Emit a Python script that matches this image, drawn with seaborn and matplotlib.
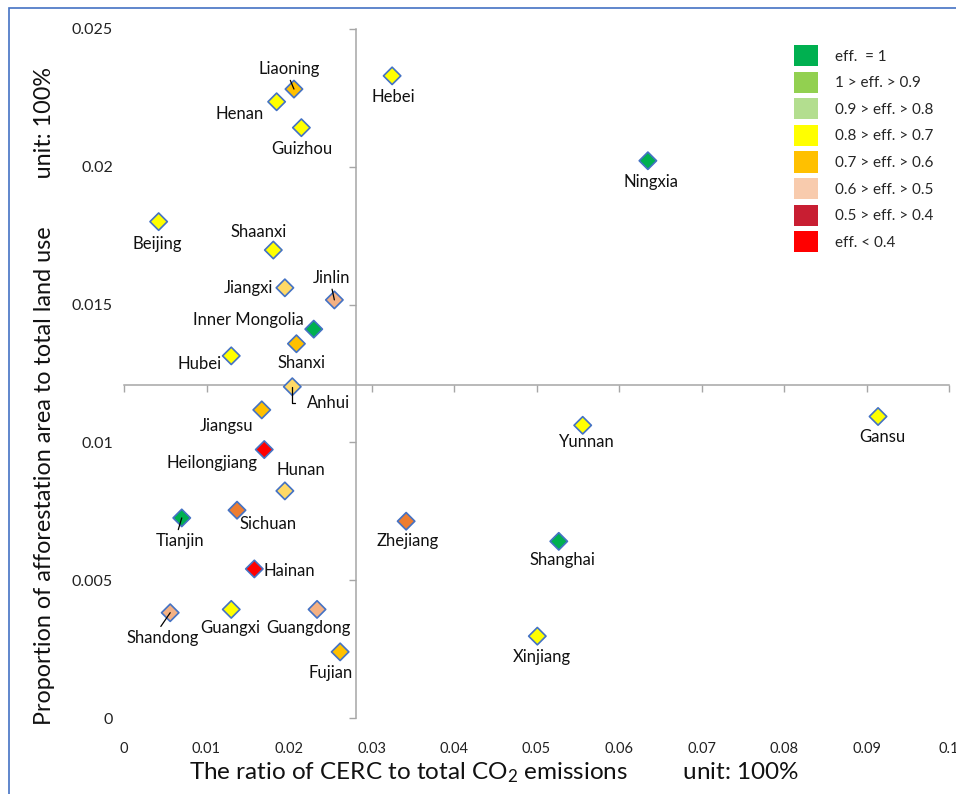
import numpy as np
import pandas as pd
import seaborn as sns
import matplotlib.pyplot as plt
from matplotlib.patches import Patch, Rectangle
from matplotlib.ticker import FuncFormatter

# provinces
provinces = ["Liaoning", "Henan", "Guizhou", "Hebei", "Ningxia", "Beijing", "Shaanxi",
             "Jiangxi", "Jinlin", "Inner Mongolia", "Shanxi", "Hubei", "Anhui", "Jiangsu",
             "Heilongjiang", "Hunan", "Sichuan", "Tianjin", "Hainan", "Shandong", "Guangxi",
             "Guangdong", "Fujian", "Yunnan", "Gansu", "Zhejiang", "Shanghai", "Xinjiang"]
cerc_ratio = [0.0206, 0.0185, 0.0215, 0.0325, 0.0635, 0.0042, 0.0181,
              0.0195, 0.0255, 0.0230, 0.0209, 0.0130, 0.0204, 0.0167,
              0.0170, 0.0195, 0.0137, 0.0070, 0.0158, 0.0056, 0.0130,
              0.0234, 0.0262, 0.0556, 0.0914, 0.0342, 0.0527, 0.0501]
afforest_ratio = [0.02282, 0.02236, 0.02142, 0.02330, 0.02022, 0.01801, 0.01698,
                  0.01561, 0.01517, 0.01411, 0.01358, 0.01314, 0.01202, 0.01118,
                  0.00974, 0.00824, 0.00754, 0.00726, 0.00541, 0.00382, 0.00394,
                  0.00394, 0.00240, 0.01062, 0.01094, 0.00714, 0.00641, 0.00297]
marker_class = ["amber", "yellow", "yellow", "yellow", "green", "yellow", "yellow",
                "gold", "salmon", "green", "amber", "yellow", "gold", "amber",
                "red", "gold", "orange", "green", "red", "salmon", "yellow",
                "salmon", "amber", "yellow", "yellow", "orange", "green", "yellow"]

legend_labels = ["eff.  = 1", "1 > eff. > 0.9", "0.9 > eff. > 0.8", "0.8 > eff. > 0.7",
                 "0.7 > eff. > 0.6", "0.6 > eff. > 0.5", "0.5 > eff. > 0.4", "eff. < 0.4"]
legend_colors = ["#00B050", "#92D050", "#B3DE8F", "#FFFF00",
                 "#FFC000", "#F8CBAD", "#C81E32", "#FF0000"]

palette = {"green": "#00B050", "yellow": "#FFFF00", "amber": "#FFC000", "gold": "#FFD966",
           "salmon": "#F4B183", "orange": "#ED7D31", "red": "#FF0000"}

x_ticks = [0, 0.01, 0.02, 0.03, 0.04, 0.05, 0.06, 0.07, 0.08, 0.09, 0.1]
y_ticks = [0, 0.005, 0.01, 0.015, 0.02, 0.025]
x_cross, y_cross = 0.0281, 0.01207

# label offsets in pixels (dx, dy), leader line kind
label_pos = {
    "Liaoning": (-5, 20, "up"), "Henan": (-37, -12, None), "Guizhou": (0, -21, None),
    "Hebei": (1, -21, None), "Ningxia": (3, -21, None), "Beijing": (-1, -22, None),
    "Shaanxi": (-15, 18, None), "Jiangxi": (-36, 0, None), "Jinlin": (-3, 22, "up"),
    "Inner Mongolia": (-65, 9, None), "Shanxi": (5, -19, None), "Hubei": (-32, -8, None),
    "Anhui": (36, -16, "elbow"), "Jiangsu": (-35, -16, None), "Heilongjiang": (-52, -13, None),
    "Hunan": (16, 21, None), "Sichuan": (31, -14, None), "Tianjin": (-2, -23, "down"),
    "Hainan": (35, -2, None), "Shandong": (-8, -25, "down"), "Guangxi": (-1, -19, None),
    "Guangdong": (-9, -19, None), "Fujian": (-10, -21, None), "Yunnan": (4, -17, None),
    "Gansu": (4, -21, None), "Zhejiang": (2, -20, None), "Shanghai": (4, -19, None),
    "Xinjiang": (5, -21, None),
}

df = pd.DataFrame({"province": provinces, "cerc": cerc_ratio,
                   "afforest": afforest_ratio, "cls": marker_class})

sns.set_style("white")
plt.rcParams['font.family'] = ['Lato', 'DejaVu Sans']
plt.rcParams['mathtext.fontset'] = 'custom'
plt.rcParams['mathtext.rm'] = 'Lato'
plt.rcParams['mathtext.it'] = 'Lato'

W, H = 956, 794
fig = plt.figure(figsize=(W / 100, H / 100), dpi=100)
pos = [124 / W, 1 - 718 / H, 825 / W, 689 / H]
ax = fig.add_axes(pos)

axis_grey = "#A6A6A6"
sns.scatterplot(data=df, x="cerc", y="afforest", hue="cls", palette=palette,
                marker="D", s=78, edgecolor="#4472C4", linewidth=1.2,
                legend=False, ax=ax, zorder=3)

ax.set_xlim(0, 0.1)
ax.set_ylim(0, 0.025)
ax.set_xticks(x_ticks)
ax.set_yticks(y_ticks)
ax.spines[["top", "right"]].set_visible(False)
ax.spines["left"].set_position(("data", x_cross))
ax.spines["bottom"].set_position(("data", y_cross))
for s in ["left", "bottom"]:
    ax.spines[s].set_color(axis_grey)
    ax.spines[s].set_linewidth(1.1)
ax.tick_params(direction="out", length=5, width=1.0, color=axis_grey,
               labelleft=False, labelbottom=False, left=True, bottom=True)
ax.set_xlabel("")
ax.set_ylabel("")
ax.patch.set_visible(False)

# tick labels live on the outer edges (Excel "low" position)
lab = fig.add_axes(pos, sharex=ax, sharey=ax, zorder=-1)
lab.set_frame_on(False)
fmt = FuncFormatter(lambda v, p: f"{v:g}")
lab.xaxis.set_major_formatter(fmt)
lab.yaxis.set_major_formatter(fmt)
lab.tick_params(length=0, colors="#222222")
lab.tick_params(axis="x", pad=17, labelsize=10.5)
lab.tick_params(axis="y", pad=8, labelsize=11.5)
lab.set_xlabel("")
lab.set_ylabel("")
lab.grid(False)

for name, xv, yv in zip(provinces, cerc_ratio, afforest_ratio):
    dx, dy, lead = label_pos[name]
    kw = dict(xy=(xv, yv), xytext=(dx, dy), textcoords="offset pixels",
              ha="center", va="center", fontsize=12, color="#111111", zorder=4)
    if lead == "up":
        kw["arrowprops"] = dict(arrowstyle="-", lw=0.9, color="black",
                                shrinkA=0, shrinkB=0, relpos=(0.5, 0))
    elif lead == "down":
        kw["arrowprops"] = dict(arrowstyle="-", lw=0.9, color="black",
                                shrinkA=0, shrinkB=0, relpos=(0.45, 1))
    elif lead == "elbow":
        kw["arrowprops"] = dict(arrowstyle="-", lw=0.9, color="black",
                                shrinkA=6, shrinkB=0, relpos=(0, 0.5),
                                connectionstyle="angle,angleA=0,angleB=90,rad=0")
    ax.annotate(name, **kw)

handles = [Patch(facecolor=c, edgecolor="none") for c in legend_colors]
leg = ax.legend(handles, legend_labels, loc="upper left",
                bbox_to_anchor=(794 / W, 1 - 45 / H), bbox_transform=fig.transFigure,
                frameon=False, fontsize=11, borderpad=0, borderaxespad=0,
                handlelength=1.6, handleheight=1.75, labelspacing=0.36,
                handletextpad=1.1)

fig.text(494 / W, 1 - 773 / H,
         "The ratio of CERC to total CO$_2$ emissions         unit: 100%",
         ha="center", va="center", fontsize=17.5, color="#111111")
fig.text(45 / W, 1 - 396 / H,
         "Proportion of afforestation area to total land use        unit: 100%",
         ha="center", va="center", rotation=90, fontsize=16.8, color="#111111")

fig.add_artist(Rectangle((9 / W, -0.1), 1.2, 1.1 - 8 / H, transform=fig.transFigure,
                         fill=False, edgecolor="#4472C4", lw=1.2, clip_on=False))

fig.savefig("out.png", dpi=100)
